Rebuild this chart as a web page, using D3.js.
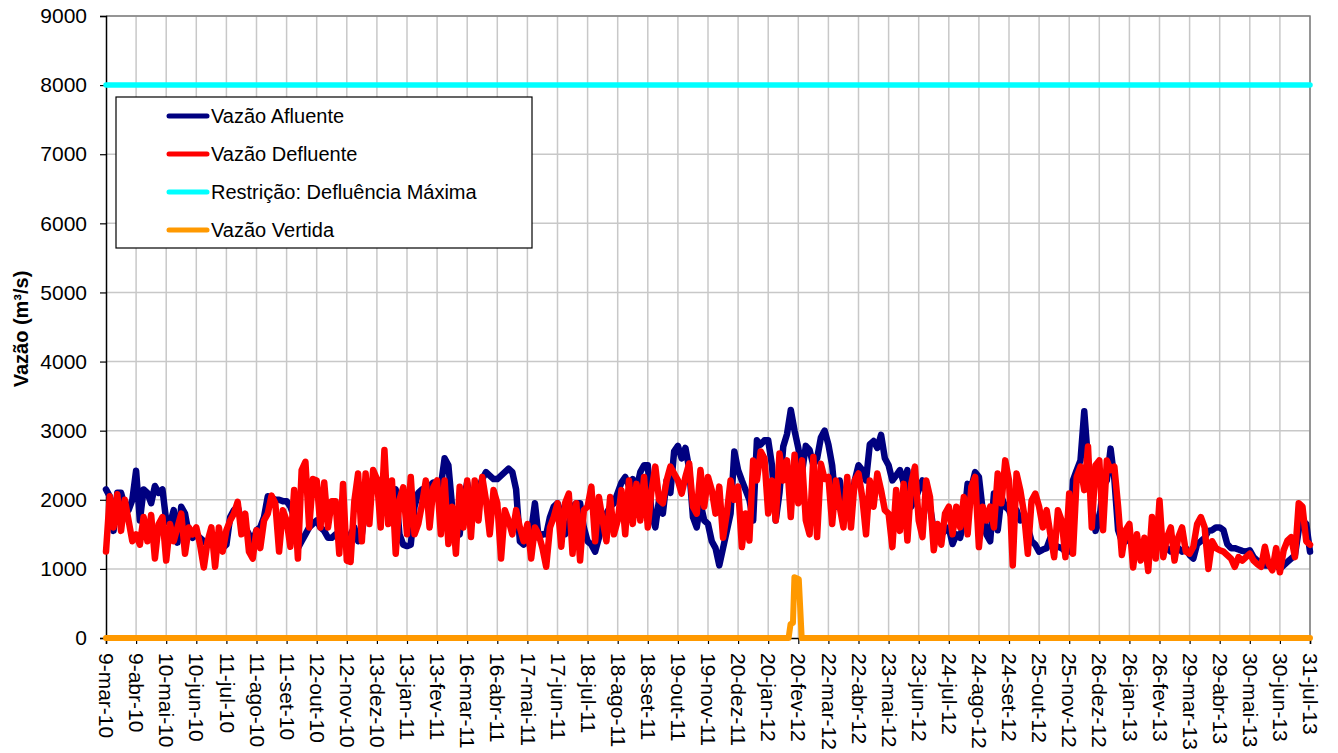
<!DOCTYPE html>
<html lang="pt">
<head>
<meta charset="utf-8">
<script src="https://cdn.jsdelivr.net/npm/d3@7"></script>
<style>
  body { margin: 0; background: #fff; }
  text { font-family: "Liberation Sans", Arial, sans-serif; }
</style>
</head>
<body>
<script>
// Rótulos do eixo X, um a cada 31 dias a partir de 9-mar-10
var rotulosX = ["9-mar-10", "9-abr-10", "10-mai-10", "10-jun-10", "11-jul-10", "11-ago-10",
    "11-set-10", "12-out-10", "12-nov-10", "13-dez-10", "13-jan-11", "13-fev-11", "16-mar-11",
    "16-abr-11", "17-mai-11", "17-jun-11", "18-jul-11", "18-ago-11", "18-set-11", "19-out-11",
    "19-nov-11", "20-dez-11", "20-jan-12", "20-fev-12", "22-mar-12", "22-abr-12", "23-mai-12",
    "23-jun-12", "24-jul-12", "24-ago-12", "24-set-12", "25-out-12", "25-nov-12", "26-dez-12",
    "26-jan-13", "26-fev-13", "29-mar-13", "29-abr-13", "30-mai-13", "30-jun-13", "31-jul-13"];
var diasEntreRotulos = 31;
var diasEntreAmostras = 31 / 8; // 8 amostras por intervalo de rótulo

var ticksY = [0, 1000, 2000, 3000, 4000, 5000, 6000, 7000, 8000, 9000];

// Vazão afluente (m³/s) - uma linha por intervalo de 31 dias
var vazaoAfluente = [
    2150, 2050, 1550, 2100, 2100, 1900, 1850, 2000,
    2420, 1700, 2150, 2100, 1950, 2200, 2100, 2150,
    1700, 1650, 1850, 1380, 1900, 1800, 1500, 1450,
    1500, 1450, 1400, 1350, 1450, 1350, 1400, 1300,
    1350, 1750, 1850, 1900, 1700, 1600, 1500, 1400,
    1560, 1600, 1750, 2050, 2030, 2000, 2000, 1980,
    1980, 1900, 1750, 1300, 1400, 1500, 1600, 1650,
    1700, 1600, 1550, 1450, 1450, 1500, 1450, 1550,
    1450, 1500, 1600, 1400, 1500, 1900, 2050, 2200,
    2300, 2100, 2100, 1800, 2100, 2150, 1500, 1350,
    1330, 1350, 1900, 2100, 2150, 2050, 2200, 2250,
    2250, 2200, 2600, 2500, 1900, 1600, 1500, 2000,
    2250, 1900, 2050, 2150, 2300, 2400, 2350, 2300,
    2300, 2350, 2400, 2450, 2400, 2150, 1400, 1350,
    1400, 1550, 1950, 1450, 1500, 1500, 1750, 1900,
    1950, 1800, 1500, 1650, 1900, 1950, 1950, 1600,
    1400, 1350, 1250, 1450, 1700, 1800, 1900, 1950,
    2100, 2250, 2330, 2200, 2300, 2150, 2400, 2500,
    2500, 1800, 1600, 2000, 1800, 2280, 2100, 2700,
    2780, 2600, 2750, 2450, 1750, 1600, 1950, 1700,
    1650, 1400, 1300, 1050, 1300, 1550, 1800, 2700,
    2430, 2280, 2140, 2000, 1700, 2860, 2800, 2860,
    2860, 2500, 1700, 2100, 2770, 2950, 3300, 3000,
    2750, 2400, 2780, 2720, 2500, 2600, 2900, 3000,
    2800, 2500, 1900, 2280, 1900, 1800, 1900, 2280,
    2500, 2430, 2280, 2800, 2850, 2750, 2940, 2600,
    2500, 2280, 2350, 2430, 2250, 2430, 1900, 2000,
    2140, 2280, 2090, 1900, 1560, 1500, 1500, 1550,
    1600, 1360, 1500, 1450, 1700, 2230, 2180, 2400,
    2330, 1850, 1500, 1400, 2090, 1560, 2040, 1900,
    1850, 1700, 1850, 1700, 1800, 1600, 1400, 1350,
    1250, 1280, 1300, 1450, 1350, 1320, 1300, 1250,
    1250, 2280, 2430, 2570, 3280, 2570, 1950, 1550,
    1700, 2190, 2280, 2740, 2300, 1560, 1400, 1400,
    1450, 1350, 1400, 1350, 1300, 1350, 1400, 1350,
    1350, 1300, 1300, 1250, 1250, 1300, 1250, 1300,
    1200, 1150, 1360, 1400, 1450, 1550, 1560, 1600,
    1600, 1560, 1360, 1300, 1300, 1280, 1260, 1250,
    1270, 1170, 1120, 1100, 1050, 1050, 1070, 1050,
    1000, 1050, 1100, 1150, 1200, 1560, 1700, 1650,
    1250];

// Vazão defluente (m³/s)
var vazaoDefluente = [
    1250, 2050, 1600, 2080, 1550, 2000, 1700, 1400,
    1500, 1350, 1750, 1400, 1780, 1150, 1650, 1750,
    1120, 1650, 1400, 1600, 1800, 1220, 1600, 1500,
    1600, 1350, 1020, 1400, 1600, 1030, 1600, 1250,
    1560, 1700, 1800, 1970, 1500, 1800, 1250, 1150,
    1560, 1300, 1700, 1800, 2060, 1950, 1250, 1850,
    1700, 1320, 2140, 1150, 2430, 2550, 1600, 2300,
    2280, 1600, 2250, 1600, 1980, 1980, 1220, 2230,
    1120, 1100, 1980, 2380, 1400, 2380, 1650, 2430,
    2300, 1600, 2720, 1650, 2280, 1220, 2000, 2180,
    1500, 2330, 1500, 1650, 1940, 2280, 1600, 2180,
    2280, 1500, 2280, 1360, 1900, 1220, 2190, 1600,
    2280, 1460, 2280, 1700, 2330, 1990, 1500, 2140,
    1950, 1150, 1850, 1700, 1500, 1850, 1600, 1400,
    1650, 1150, 1600, 1500, 1300, 1030, 1600, 1750,
    1950, 1320, 1950, 2090, 1220, 1950, 1120, 1850,
    1900, 2190, 1400, 2040, 1700, 1400, 2040, 1500,
    1700, 2140, 1500, 2280, 1650, 2230, 1700, 2330,
    1600, 2140, 2480, 2000, 1950, 2280, 2480, 2380,
    2280, 2090, 2330, 2525, 1900, 1800, 2430, 1900,
    2330, 2140, 1800, 2190, 1450, 1800, 2280, 2000,
    2190, 1315, 1800, 1410, 2570, 2280, 2700, 2600,
    1800, 2280, 1700, 2670, 2280, 2570, 1750, 2650,
    1950, 2570, 1700, 1500, 2620, 1460, 2520, 2300,
    2330, 1650, 2280, 1900, 1600, 2330, 1600, 2280,
    2380, 2040, 1500, 2280, 1900, 2380, 2140, 1850,
    1800, 1315, 2140, 1550, 2230, 1410, 2230, 2480,
    1700, 1460, 2280, 2040, 1270, 1650, 1350, 1800,
    1900, 1500, 1900, 1600, 2040, 1500, 2190, 2330,
    1315, 1900, 1700, 1900, 1600, 2380, 1950, 2570,
    2280, 1050, 2380, 2140, 1800, 1220, 1990, 2090,
    1900, 1600, 1850, 1500, 1170, 1850, 1700, 1170,
    2090, 1220, 2330, 2480, 2140, 2770, 1600, 2500,
    2570, 1560, 2570, 2430, 2480, 1900, 1200, 1560,
    1650, 1020, 1500, 1120, 1450, 970, 1750, 1150,
    1990, 1170, 1460, 1600, 1120, 1460, 1600, 1250,
    1220, 1320, 1650, 1750, 1600, 1000, 1400, 1300,
    1270, 1250, 1200, 1150, 1030, 1170, 1120, 1170,
    1220, 1120, 1070, 1030, 1320, 1070, 980, 1300,
    950, 1270, 1410, 1460, 1170, 1950, 1900, 1400,
    1350];

// Restrição de defluência máxima
var restricaoDias = [0, 1240];
var restricaoValores = [8000, 8000];

// Vazão vertida: zero, com um pulso em fev-12
var vertidaDias = [0, 703, 705, 707.5, 709, 713.5, 716.5, 1240];
var vertidaValores = [0, 0, 200, 220, 880, 850, 0, 0];

var legendaNomes = ["Vazão Afluente", "Vazão Defluente", "Restrição: Defluência Máxima", "Vazão Vertida"];
var legendaCores = ["#000080", "#ff0000", "#00ffff", "#ff9900"];

function desenharGrafico()
{
    var width = 1338, height = 753;
    var margin = {top: 16, right: 28, bottom: 115, left: 106};
    var chartWidth = width - margin.left - margin.right;
    var chartHeight = height - margin.top - margin.bottom;
    var ultimoDia = (rotulosX.length - 1) * diasEntreRotulos;
    var ticksX = rotulosX.map(function(r, i) { return i * diasEntreRotulos; });

    var xScale = d3.scaleLinear().domain([0, ultimoDia]).range([0, chartWidth]);
    var yScale = d3.scaleLinear().domain([0, 9000]).range([chartHeight, 0]);

    var canvas = d3.select("body").append("svg")
        .attr("width", width)
        .attr("height", height);

    var chartGroup = canvas.append("g")
        .attr("transform", "translate(" + margin.left + "," + margin.top + ")");

    // Grade
    chartGroup.append("g").selectAll("line").data(ticksY.slice(1)).enter()
        .append("line")
        .attr("x1", 0).attr("x2", chartWidth)
        .attr("y1", function(d) { return yScale(d); })
        .attr("y2", function(d) { return yScale(d); })
        .attr("stroke", "#c8c8c8").attr("stroke-width", 1.5);
    chartGroup.append("g").selectAll("line").data(ticksX.slice(1)).enter()
        .append("line")
        .attr("y1", 0).attr("y2", chartHeight)
        .attr("x1", function(d) { return xScale(d); })
        .attr("x2", function(d) { return xScale(d); })
        .attr("stroke", "#c8c8c8").attr("stroke-width", 1.5);

    // Borda superior e direita
    chartGroup.append("path")
        .attr("d", "M0,0H" + chartWidth + "V" + chartHeight)
        .attr("fill", "none").attr("stroke", "#808080").attr("stroke-width", 1.5);

    // Eixos
    var xAxis = d3.axisBottom(xScale).tickValues(ticksX).tickSize(6)
        .tickFormat(function(d, i) { return rotulosX[i]; });
    var yAxis = d3.axisLeft(yScale).tickValues(ticksY).tickSize(6).tickPadding(13)
        .tickFormat(d3.format("d"));

    var gy = chartGroup.append("g").call(yAxis);
    var gx = chartGroup.append("g").attr("transform", "translate(0," + chartHeight + ")").call(xAxis);
    [gx, gy].forEach(function(g) {
        g.select(".domain").attr("stroke", "#000").attr("stroke-width", 1.5);
        g.selectAll(".tick line").attr("stroke", "#000").attr("stroke-width", 1.2);
        g.selectAll("text").attr("fill", "#000").style("font-size", "21px")
            .style("font-family", "'Liberation Sans', Arial, sans-serif");
    });
    gx.selectAll("text")
        .attr("transform", "rotate(90)")
        .attr("x", 15).attr("y", 0).attr("dy", "0.35em")
        .style("text-anchor", "start");

    // Título do eixo Y
    canvas.append("text")
        .attr("transform", "translate(28," + (margin.top + 313) + ") rotate(-90)")
        .attr("text-anchor", "middle")
        .style("font-size", "20px").style("font-weight", "bold")
        .text("Vazão (m³/s)");

    // Séries
    var linha = d3.line()
        .x(function(d) { return xScale(d[0]); })
        .y(function(d) { return yScale(d[1]); });

    var series = [
        vazaoAfluente.map(function(v, i) { return [i * diasEntreAmostras, v]; }),
        vazaoDefluente.map(function(v, i) { return [i * diasEntreAmostras, v]; }),
        restricaoValores.map(function(v, i) { return [restricaoDias[i], v]; }),
        vertidaValores.map(function(v, i) { return [vertidaDias[i], v]; })
    ];
    var larguras = [6.5, 6.5, 5.5, 6];

    series.forEach(function(s, i) {
        chartGroup.append("path")
            .datum(s)
            .attr("d", linha)
            .attr("fill", "none")
            .attr("stroke", legendaCores[i])
            .attr("stroke-width", larguras[i])
            .attr("stroke-linejoin", "round")
            .attr("stroke-linecap", "round");
    });

    // Legenda
    var legenda = canvas.append("g").attr("transform", "translate(116,97)");
    legenda.append("rect")
        .attr("width", 416).attr("height", 151)
        .attr("fill", "#fff").attr("stroke", "#000").attr("stroke-width", 1.2);
    legendaNomes.forEach(function(nome, i) {
        var yPos = 19 + i * 38;
        legenda.append("line")
            .attr("x1", 53).attr("x2", 91)
            .attr("y1", yPos).attr("y2", yPos)
            .attr("stroke", legendaCores[i]).attr("stroke-width", 5)
            .attr("stroke-linecap", "round");
        legenda.append("text")
            .attr("x", 95).attr("y", yPos).attr("dy", "0.35em")
            .style("font-size", "20px")
            .text(nome);
    });
}

desenharGrafico();
</script>
</body>
</html>
